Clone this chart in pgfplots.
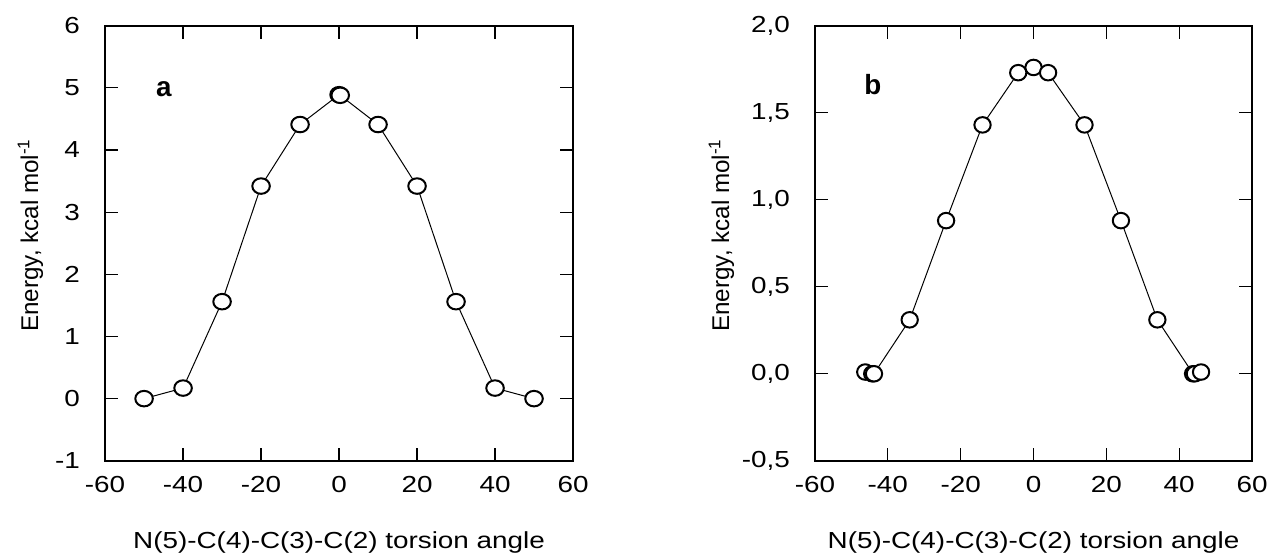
\documentclass[border=0pt]{standalone}
\usepackage{pgfplots}
\pgfplotsset{compat=1.18}
\usepackage{fontspec}
\setmainfont{Liberation Sans}
\begin{document}
\pgfplotsset{
  panel/.style={
    scale only axis,
    height=218.5bp,
    xmin=-60, xmax=60,
    xtick={-60,-40,...,60},
    tick align=inside,
    major tick length=6.5bp,
    axis line style={line width=1bp},
    every tick/.style={black, line width=0.6bp},
    tick label style={font=\fontsize{11.7}{14}\selectfont, xscale=1.2},
    xticklabel style={yshift=-4.5bp},
    yticklabel style={xshift=-7bp},
    /pgf/number format/assume math mode=true,
    xlabel={N(5)-C(4)-C(3)-C(2) torsion angle},
    ylabel={Energy, kcal mol\textsuperscript{-1}},
    xlabel style={font=\fontsize{11.7}{14}\selectfont, xscale=1.2,
      at={(axis description cs:0.5,0)}, anchor=center, yshift=-41bp},
    ylabel style={font=\fontsize{12.2}{14}\selectfont,
      at={(axis description cs:0,0.5)}, anchor=center},
    clip=false,
  },
  curve/.style={black, line width=0.5bp, mark=*, mark size=3.9bp,
    mark options={fill=white, draw=black, line width=1bp, xscale=#1}},
}
\begin{tikzpicture}
\useasboundingbox (-50bp,-46.2bp) rectangle (585bp,231.4bp);
\begin{axis}[panel, width=235bp,
    ymin=-1, ymax=6, ytick={-1,0,...,6},
    ylabel style={yshift=37.5bp, xshift=4bp}]
\addplot[curve=1.13] coordinates {
  (-50,0.0) (-40,0.17) (-30,1.56) (-20,3.42) (-10,4.41) (0,4.89)
  (0.3,4.88) (10,4.41) (20,3.42) (30,1.56) (40,0.17) (50,0.0)
};
\node[font=\bfseries\fontsize{14}{16}\selectfont] at (axis cs:-44.9,4.98) {a};
\end{axis}
\begin{axis}[panel, width=219.5bp, xshift=356.5bp,
    ymin=-0.5, ymax=2.0, ytick={-0.5,0,...,2.0},
    ylabel style={yshift=47bp, xshift=4bp},
    yticklabel style={/pgf/number format/.cd, fixed, fixed zerofill,
      precision=1, use comma}]
\addplot[curve=1.05] coordinates {
  (-46.2,0.01) (-44.3,0.0) (-43.8,0.0) (-34,0.31) (-24,0.88) (-14,1.43)
  (-4.2,1.73) (0,1.76) (4.0,1.73) (14,1.43) (24,0.88) (34,0.31)
  (43.8,0.0) (44.3,0.0) (46.0,0.01)
};
\node[font=\bfseries\fontsize{14}{16}\selectfont] at (axis cs:-44.1,1.66) {b};
\end{axis}
\end{tikzpicture}
\end{document}
